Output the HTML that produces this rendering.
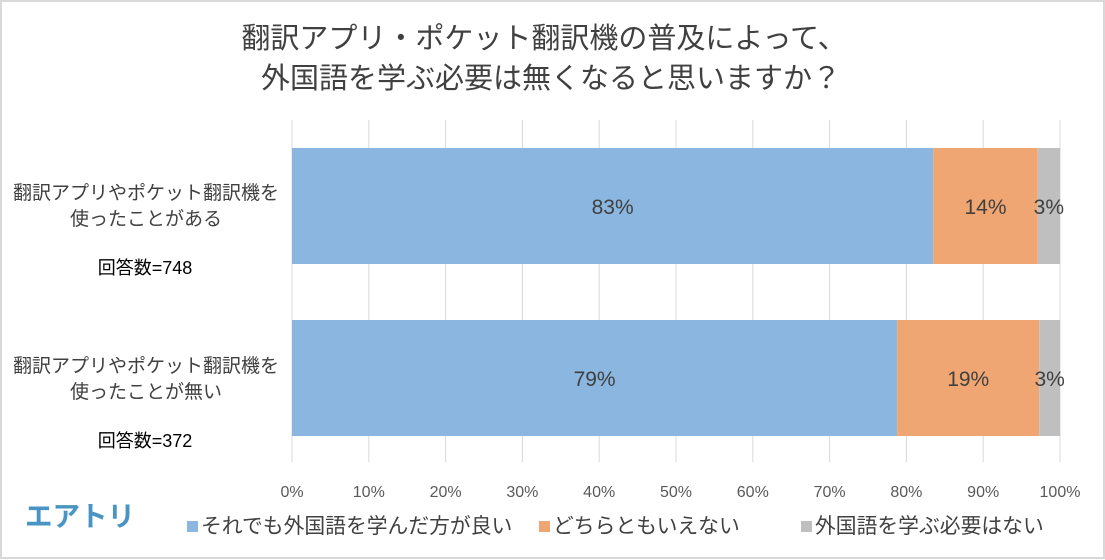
<!DOCTYPE html>
<html><head><meta charset="utf-8">
<style>
body{margin:0;background:#fff;}
#wrap{position:relative;width:1105px;height:560px;overflow:hidden;font-family:"Liberation Sans","Noto Sans CJK JP",sans-serif;}
svg text{font-family:"Liberation Sans","Noto Sans CJK JP",sans-serif;}
</style></head>
<body>
<div id="wrap">
<svg id="chart" width="1105" height="560">
<rect x="1" y="1" width="1103" height="557" fill="#fff" stroke="#d9d9d9" stroke-width="2"/>
<text x="544" y="48" text-anchor="middle" font-size="29" fill="#404040">翻訳アプリ・ポケット翻訳機の普及によって、</text>
<text x="551" y="88" text-anchor="middle" font-size="29" fill="#404040">外国語を学ぶ必要は無くなると思いますか？</text>
<g id="grid"></g>
<g id="bars"></g>
<g id="ticks"></g>
<text x="146" y="199" text-anchor="middle" font-size="19" fill="#404040"><tspan x="146">翻訳アプリやポケット翻訳機を</tspan><tspan x="146" dy="26">使ったことがある</tspan></text>
<text x="145" y="274" text-anchor="middle" font-size="18" fill="#000">回答数=748</text>
<text x="146" y="372" text-anchor="middle" font-size="19" fill="#404040"><tspan x="146">翻訳アプリやポケット翻訳機を</tspan><tspan x="146" dy="26">使ったことが無い</tspan></text>
<text x="145" y="447" text-anchor="middle" font-size="18" fill="#000">回答数=372</text>
<text x="25" y="526" font-size="28" font-weight="bold" fill="#4a94c4" textLength="110" lengthAdjust="spacingAndGlyphs">エアトリ</text>
<g>
<rect x="187" y="521" width="11" height="11" fill="#8bb6e0"/>
<text x="201" y="533" font-size="20.8" fill="#404040">それでも外国語を学んだ方が良い</text>
<rect x="539" y="521" width="11" height="11" fill="#f0a673"/>
<text x="553" y="533" font-size="20.8" fill="#404040">どちらともいえない</text>
<rect x="801" y="521" width="11" height="11" fill="#bfbfbf"/>
<text x="815" y="533" font-size="20.8" fill="#404040">外国語を学ぶ必要はない</text>
</g>
</svg>
</div>
<script>
const categories = ["used", "not-used"];
const learnValues = [83.5, 78.8];
const neutralValues = [13.6, 18.5];
const unneededValues = [2.9, 2.7];
const learnLabels = ["83%", "79%"];
const neutralLabels = ["14%", "19%"];
const unneededLabels = ["3%", "3%"];
const tickValues = [0,10,20,30,40,50,60,70,80,90,100];
const tickLabels = ["0%","10%","20%","30%","40%","50%","60%","70%","80%","90%","100%"];

const NS = "http://www.w3.org/2000/svg";
const x0 = 292, x1 = 1060;
function xScale(v){ return x0 + (x1 - x0) * v / 100; }
const bandTop = 120, bandH = 172, barH = 116;
function yBand(i){ return bandTop + i * bandH + (bandH - barH) / 2; }
function mk(tag, attrs){ const e = document.createElementNS(NS, tag); for (const k in attrs) e.setAttribute(k, attrs[k]); return e; }

const grid = document.getElementById('grid');
const ticks = document.getElementById('ticks');
tickValues.forEach((t, i) => {
  const l = mk('line', {x1: xScale(t), x2: xScale(t), y1: 120, y2: 462, stroke: '#d9d9d9', 'stroke-width': 1});
  
  
  grid.appendChild(l);
  const tx = mk('text', {x: xScale(t), y: 497, 'text-anchor': 'middle', 'font-size': 16, fill: '#595959'});
  tx.textContent = tickLabels[i];
  
  
  ticks.appendChild(tx);
});

const bars = document.getElementById('bars');
const series = [
  {vals: learnValues, labels: learnLabels, color: '#8bb6e0', name: 'learn'},
  {vals: neutralValues, labels: neutralLabels, color: '#f0a673', name: 'neutral'},
  {vals: unneededValues, labels: unneededLabels, color: '#bfbfbf', name: 'unneeded'}
];
categories.forEach((c, i) => {
  let acc = 0;
  const y = yBand(i);
  series.forEach(s => {
    const v = s.vals[i];
    const r = mk('rect', {x: xScale(acc), y: y, width: xScale(acc + v) - xScale(acc), height: barH, fill: s.color});
    
    
    bars.appendChild(r);
    const t = mk('text', {x: (xScale(acc) + xScale(acc + v)) / 2, y: y + barH / 2 + 8, 'text-anchor': 'middle', 'font-size': 21, fill: '#404040'});
    t.textContent = s.labels[i];
    
    
    bars.appendChild(t);
    acc += v;
  });
});
</script>
</body></html>
